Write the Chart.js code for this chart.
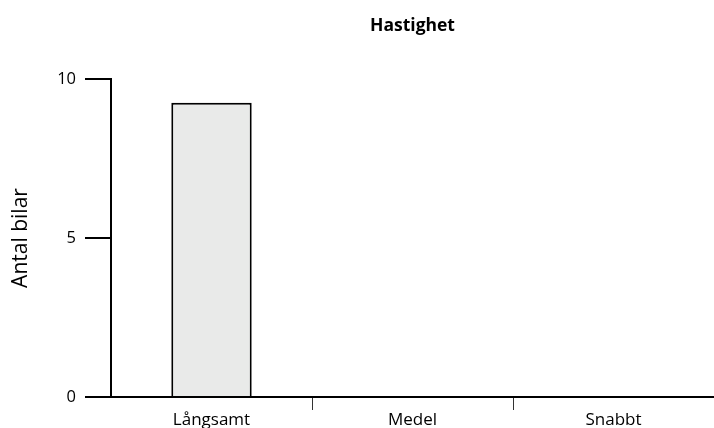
<!DOCTYPE html>
<html>
<head>
<meta charset="utf-8">
<script src="https://cdn.jsdelivr.net/npm/chart.js@4/dist/chart.umd.min.js"></script>
<style>
  html, body { margin: 0; padding: 0; background: #fff; }
  #wrap { width: 714px; height: 428px; }
</style>
</head>
<body>
<div id="wrap"><canvas id="chart-area" width="714" height="428"></canvas></div>
<script>
var categories = ['Långsamt', 'Medel', 'Snabbt'];
var antalBilar = [9.25, 0, 0];
var yTicks = [0, 5, 10];

var font = '"Open Sans", "Noto Sans", sans-serif';

var config = {
  type: 'bar',
  data: {
    labels: categories,
    datasets: [{
      label: 'Antal bilar',
      data: antalBilar,
      backgroundColor: '#e9eae9',
      borderColor: '#000',
      borderWidth: 2,
      borderSkipped: 'start',
      categoryPercentage: 1,
      barPercentage: 0.4
    }]
  },
  options: {
    responsive: false,
    animation: false,
    layout: { padding: 0 },
    plugins: {
      legend: { display: false },
      tooltip: { enabled: false },
      title: {
        display: true,
        text: 'Hastighet',
        fullSize: false,
        color: '#000',
        font: { family: font, size: 17.5, weight: 'bold', lineHeight: 1.2 },
        padding: { top: 16, bottom: 42 }
      }
    },
    scales: {
      x: {
        offset: true,
        border: { display: true, color: '#000', width: 2 },
        grid: {
          offset: true,
          drawOnChartArea: false,
          drawTicks: true,
          tickLength: 13,
          lineWidth: 1,
          // only the two separators between the categories
          color: function(ctx) {
            return (ctx.index === 1 || ctx.index === 2) ? '#333' : 'rgba(0,0,0,0)';
          }
        },
        ticks: {
          color: '#000',
          padding: 0,
          maxRotation: 0,
          font: { family: font, size: 17 }
        },
        afterFit: function(scale) { scale.height = 31; }
      },
      y: {
        min: 0,
        max: 10,
        border: { display: true, color: '#000', width: 2 },
        grid: {
          drawOnChartArea: false,
          drawTicks: true,
          tickLength: 26,
          lineWidth: 2,
          color: '#000'
        },
        afterBuildTicks: function(scale) {
          scale.ticks = yTicks.map(function(v) { return { value: v }; });
        },
        ticks: {
          color: '#000',
          padding: 9,
          font: { family: font, size: 16.5 }
        },
        title: {
          display: true,
          text: 'Antal bilar',
          color: '#000',
          font: { family: font, size: 21 },
          padding: { top: 8, bottom: 0 }
        },
        afterFit: function(scale) { scale.width = 111; }
      }
    }
  }
};

window.onload = function() {
  var ctx = document.getElementById('chart-area').getContext('2d');
  window.myBar = new Chart(ctx, config);
};
</script>
</body>
</html>
